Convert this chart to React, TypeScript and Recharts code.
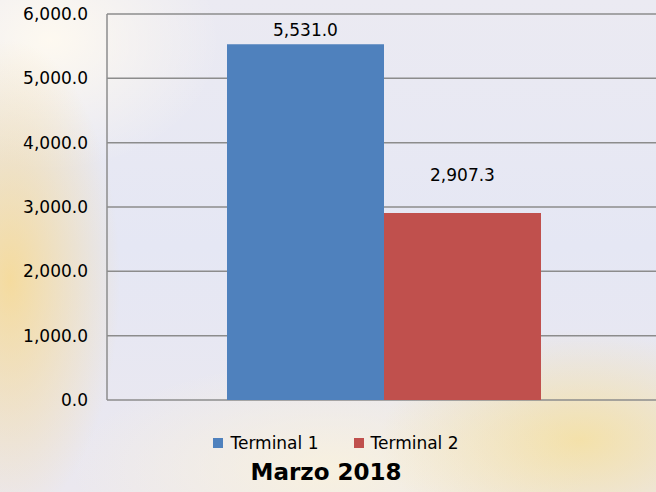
import React from "react";
import { BarChart, Bar, XAxis, YAxis, CartesianGrid, LabelList } from "recharts";

const categories = ["Marzo 2018"];
const terminal1 = [5531.0];
const terminal2 = [2907.3];
const yTicks = [0, 1000, 2000, 3000, 4000, 5000, 6000];

const data = categories.map((c, i) => ({ name: c, t1: terminal1[i], t2: terminal2[i] }));

const fmt = (v: number) =>
  Number(v).toLocaleString("en-US", { minimumFractionDigits: 1, maximumFractionDigits: 1 });

const FONT = "'DejaVu Sans', sans-serif";

export default function App() {
  return (
    <div
      style={{
        position: "absolute",
        left: 0,
        top: 0,
        width: 656,
        height: 492,
        overflow: "hidden",
        fontFamily: FONT,
        background:
          "radial-gradient(ellipse 110px 240px at 10px 280px, rgba(250,215,130,0.75), rgba(250,215,130,0) 100%)," +
          "radial-gradient(ellipse 200px 110px at 580px 440px, rgba(248,222,140,0.7), rgba(248,222,140,0) 100%)," +
          "radial-gradient(ellipse 170px 130px at 50px 40px, rgba(255,250,240,0.95), rgba(255,250,240,0) 100%)," +
          "radial-gradient(ellipse 260px 110px at 330px 470px, rgba(250,242,220,0.85), rgba(250,242,220,0) 100%)," +
          "linear-gradient(180deg, #ebeaf2 0%, #e5e7f4 50%, #ebe8ef 100%)",
      }}
    >
      <BarChart
        width={661}
        height={492}
        data={data}
        margin={{ top: 14, right: 0, left: 0, bottom: 92 }}
        barGap={0}
        barSize={157}
      >
        <CartesianGrid vertical={false} stroke="#8c8c8c" strokeWidth={1.5} />
        <XAxis dataKey="name" hide />
        <YAxis
          width={107}
          domain={[0, 6000]}
          ticks={yTicks}
          tickFormatter={fmt}
          axisLine={{ stroke: "#8c8c8c", strokeWidth: 1.5 }}
          tickLine={false}
          tick={{ fill: "#000", fontSize: 17, fontFamily: FONT }}
          tickMargin={13}
        />
        <Bar dataKey="t1" name="Terminal 1" fill="#4f81bd" isAnimationActive={false}>
          <LabelList dataKey="t1" position="top" offset={8} formatter={fmt} fill="#000" fontSize={17} fontFamily={FONT} />
        </Bar>
        <Bar dataKey="t2" name="Terminal 2" fill="#c0504d" isAnimationActive={false}>
          <LabelList dataKey="t2" position="top" offset={32} formatter={fmt} fill="#000" fontSize={17} fontFamily={FONT} />
        </Bar>
      </BarChart>
      <div
        style={{
          position: "absolute",
          top: 433,
          left: 0,
          width: 672,
          display: "flex",
          justifyContent: "center",
          gap: 35,
          fontSize: 17,
          color: "#000",
        }}
      >
        {[
          ["Terminal 1", "#4f81bd"],
          ["Terminal 2", "#c0504d"],
        ].map(([n, c]) => (
          <div key={n} style={{ display: "flex", alignItems: "center" }}>
            <span style={{ display: "inline-block", width: 10, height: 10, background: c, marginRight: 7 }} />
            <span>{n}</span>
          </div>
        ))}
      </div>
      <div
        style={{
          position: "absolute",
          top: 459,
          left: 0,
          width: 652,
          textAlign: "center",
          fontSize: 23,
          fontWeight: "bold",
          color: "#000",
        }}
      >
        Marzo 2018
      </div>
    </div>
  );
}
